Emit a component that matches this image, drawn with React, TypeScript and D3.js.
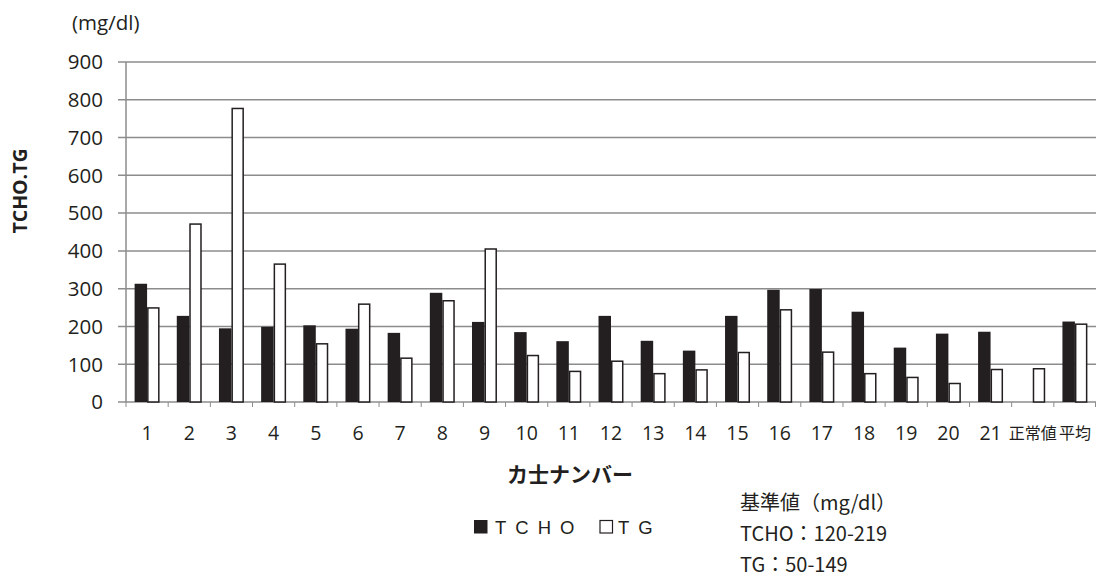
import React from "react";
import * as d3 from "d3";

// 力士ごとの血中脂質（TCHO / TG）
const categories = ["1","2","3","4","5","6","7","8","9","10","11","12","13","14","15","16","17","18","19","20","21","正常値","平均"];
const tchoValues: (number | null)[] = [313,228,195,199,203,194,183,289,212,185,161,228,162,136,228,297,299,239,144,181,186,null,213];
const tgValues: (number | null)[] = [249,471,777,365,154,259,116,268,405,123,81,108,75,85,131,244,132,75,65,49,86,88,206];
const yTicks = [0,100,200,300,400,500,600,700,800,900];
const seriesNames = ["TCHO","TG"];
const noteLines = ["基準値（mg/dl）","TCHO：120-219","TG：50-149"];

const W = 1096, H = 578;
const plot = { left: 126, right: 1096, top: 62, bottom: 402 };
const INK = "#231f20";
const GRID = "#8c8c8c";
const FONT = "'Open Sans', 'Noto Sans CJK JP', sans-serif";
const JP = "'Noto Sans CJK JP', 'Open Sans', sans-serif";

export default function App() {
  const x = d3.scaleBand<string>().domain(categories).range([plot.left, plot.right]).paddingInner(0).paddingOuter(0);
  const xs = d3.scaleBand<string>().domain(seriesNames).range([0, x.bandwidth()]).paddingInner(0).paddingOuter(0.69);
  const y = d3.scaleLinear().domain([0, 900]).range([plot.bottom, plot.top]);

  const bars: JSX.Element[] = [];
  categories.forEach((c, i) => {
    const t = tchoValues[i];
    const g = tgValues[i];
    const x0 = x(c)!;
    if (t != null) {
      bars.push(
        <rect key={`t${i}`} x={x0 + xs("TCHO")!} y={y(t)} width={xs.bandwidth()} height={y(0) - y(t)} fill={INK} />
      );
    }
    if (g != null) {
      bars.push(
        <rect key={`g${i}`} x={x0 + xs("TG")! + 0.75} y={y(g)} width={xs.bandwidth() - 1.5} height={y(0) - y(g)} fill="#fff" stroke={INK} strokeWidth={1.5} />
      );
    }
  });

  const isNum = (c: string) => /^\d+$/.test(c);

  return (
    <svg width={W} height={H} style={{ position: "absolute", left: 0, top: 0, background: "#fff" }}>
      {/* gridlines with left tick stubs */}
      {yTicks.map((v) => (
        <line key={`gl${v}`} x1={118} x2={plot.right} y1={y(v)} y2={y(v)} stroke={GRID} strokeWidth={1.5} />
      ))}
      {/* category tick marks below the axis */}
      {categories.map((c, i) => (
        <line key={`xt${i}`} x1={x(c)!} x2={x(c)!} y1={plot.bottom} y2={plot.bottom + 5} stroke={GRID} strokeWidth={1} />
      ))}
      <line x1={plot.right - 0.5} x2={plot.right - 0.5} y1={plot.bottom} y2={plot.bottom + 5} stroke={GRID} strokeWidth={1} />
      {/* y axis */}
      <line x1={plot.left} x2={plot.left} y1={plot.top} y2={plot.bottom} stroke={GRID} strokeWidth={1.5} />
      {bars}
      {/* y tick labels */}
      {yTicks.map((v) => (
        <text key={`yl${v}`} x={103} y={y(v)} dy="0.36em" textAnchor="end" fontFamily={FONT} fontSize={20.5} fill={INK}>
          {v}
        </text>
      ))}
      {/* x tick labels */}
      {categories.map((c) => (
        <text key={`xl${c}`} x={x(c)! + x.bandwidth() / 2} y={433} dy="0.36em" textAnchor="middle"
          fontFamily={isNum(c) ? FONT : JP} fontSize={isNum(c) ? 19.5 : 16} fill={INK}>
          {c}
        </text>
      ))}
      {/* unit label */}
      <text x={72} y={23} dy="0.36em" fontFamily={FONT} fontSize={20.5} fill={INK}>(mg/dl)</text>
      {/* y axis title */}
      <text transform="translate(20,191) rotate(-90)" textAnchor="middle" dy="0.36em" fontFamily={FONT} fontWeight="bold" fontSize={19.5} fill={INK}>
        TCHO.TG
      </text>
      {/* x axis title */}
      <text x={570} y={474} dy="0.36em" textAnchor="middle" fontFamily={JP} fontWeight="bold" fontSize={21} fill={INK}>
        カ士ナンバー
      </text>
      {/* legend */}
      <rect x={474} y={520} width={13.5} height={13.5} fill={INK} />
      <text x={495} y={527} dy="0.36em" fontFamily="'Liberation Sans', Arial, sans-serif" fontSize={18.5} letterSpacing={9} fill={INK}>TCHO</text>
      <rect x={600} y={520.5} width={12.5} height={12.5} fill="#fff" stroke={INK} strokeWidth={1.2} />
      <text x={618} y={527} dy="0.36em" fontFamily="'Liberation Sans', Arial, sans-serif" fontSize={18.5} letterSpacing={9} fill={INK}>TG</text>
      {/* reference ranges */}
      {noteLines.map((s, i) => (
        <text key={`n${i}`} x={740} y={503 + i * 31} dy="0.36em" fontFamily={JP} fontSize={20} fill={INK}>{s}</text>
      ))}
    </svg>
  );
}
